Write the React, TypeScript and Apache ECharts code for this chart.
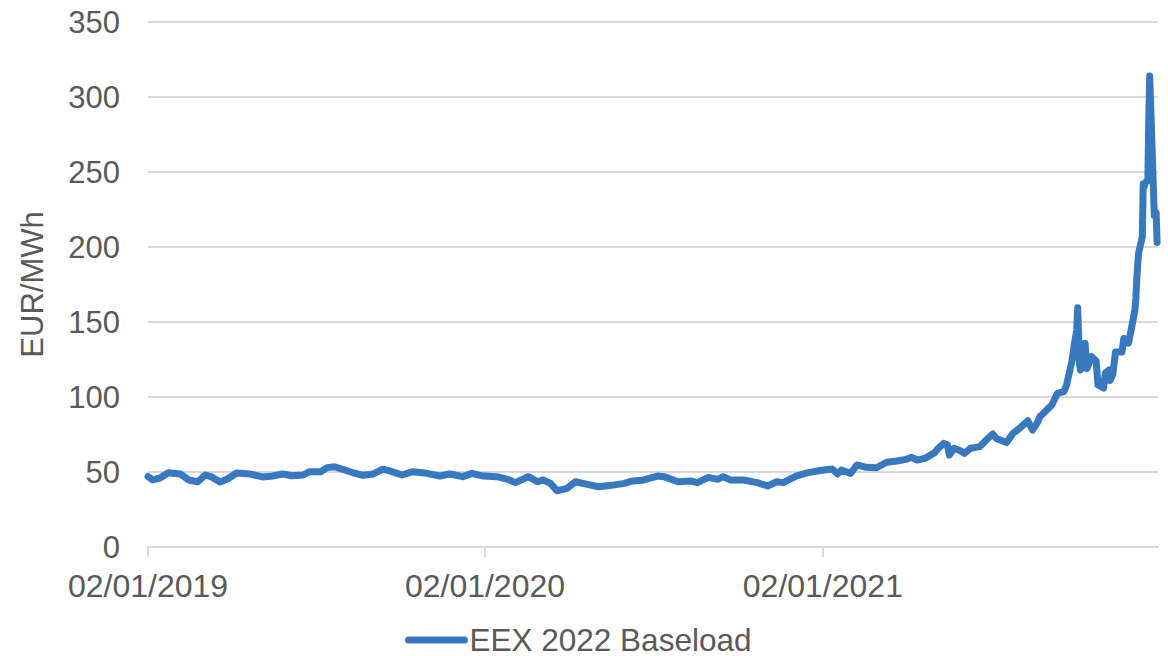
import React, { useEffect, useRef } from "react";
import * as echarts from "echarts";

// EEX Calendar 2022 baseload power futures, settlement prices (EUR/MWh)
const seriesName = "EEX 2022 Baseload";
const yAxisTitle = "EUR/MWh";

const axisStart = "2019-01-02";
const axisEnd = "2021-12-31";
const dateTicks = ["2019-01-02", "2020-01-02", "2021-01-02"];
const yMin = 0;
const yMax = 350;
const yStep = 50;

const dates = [
  "2019-01-02", "2019-01-07", "2019-01-15", "2019-01-24", "2019-02-06", "2019-02-15",
  "2019-02-25", "2019-03-05", "2019-03-12", "2019-03-21", "2019-03-29", "2019-04-08",
  "2019-04-22", "2019-05-06", "2019-05-17", "2019-05-28", "2019-06-07", "2019-06-19",
  "2019-06-26", "2019-07-08", "2019-07-15", "2019-07-23", "2019-08-01", "2019-08-12",
  "2019-08-23", "2019-09-03", "2019-09-13", "2019-09-20", "2019-10-04", "2019-10-16",
  "2019-10-31", "2019-11-14", "2019-11-25", "2019-12-09", "2019-12-19", "2019-12-31",
  "2020-01-15", "2020-01-27", "2020-02-04", "2020-02-18", "2020-02-28", "2020-03-05",
  "2020-03-13", "2020-03-20", "2020-03-31", "2020-04-09", "2020-04-17", "2020-05-04",
  "2020-05-18", "2020-06-01", "2020-06-08", "2020-06-22", "2020-07-07", "2020-07-14",
  "2020-07-29", "2020-08-12", "2020-08-19", "2020-08-31", "2020-09-10", "2020-09-16",
  "2020-09-24", "2020-10-08", "2020-10-23", "2020-11-03", "2020-11-13", "2020-11-20",
  "2020-12-04", "2020-12-16", "2020-12-30",
  "2021-01-12", "2021-01-18", "2021-01-22", "2021-02-01", "2021-02-08", "2021-02-18",
  "2021-03-01", "2021-03-12", "2021-03-23", "2021-04-02", "2021-04-08", "2021-04-14",
  "2021-04-23", "2021-05-03", "2021-05-07", "2021-05-13", "2021-05-17", "2021-05-19",
  "2021-05-24", "2021-05-31", "2021-06-04", "2021-06-11", "2021-06-21", "2021-06-28",
  "2021-07-05", "2021-07-09", "2021-07-20", "2021-07-27", "2021-08-03", "2021-08-12",
  "2021-08-17", "2021-08-23", "2021-08-25", "2021-08-27", "2021-09-07", "2021-09-13",
  "2021-09-20", "2021-09-23", "2021-09-29", "2021-10-01", "2021-10-04", "2021-10-05",
  "2021-10-07", "2021-10-08", "2021-10-13", "2021-10-15", "2021-10-20", "2021-10-25",
  "2021-10-27", "2021-11-02", "2021-11-04", "2021-11-08", "2021-11-09", "2021-11-12",
  "2021-11-15", "2021-11-22", "2021-11-24", "2021-11-29", "2021-12-02", "2021-12-06",
  "2021-12-07", "2021-12-08", "2021-12-09", "2021-12-10", "2021-12-13", "2021-12-14",
  "2021-12-15", "2021-12-16", "2021-12-17", "2021-12-20", "2021-12-21", "2021-12-22",
  "2021-12-27", "2021-12-29", "2021-12-30",
];

const prices = [
  47, 44.7, 46, 49.5, 48.7, 44.7,
  43.5, 48, 46.7, 43.3, 45.3, 49.3,
  48.7, 46.7, 47.3, 48.7, 47.5, 48,
  50.2, 50.2, 52.9, 53.5, 51.8, 49.5,
  47.8, 48.7, 51.8, 50.9, 48, 50.2,
  49.1, 47.3, 48.7, 46.9, 49.1, 47.3,
  46.9, 45.1, 42.9, 46.9, 43.5, 44.7,
  42.4, 37.5, 39.1, 43.5, 42.4, 40.2,
  41.1, 42.4, 43.8, 44.7, 47.3, 46.9,
  43.5, 44, 42.9, 46.4, 45.1, 46.9,
  44.7, 44.7, 42.9, 40.7, 43.5, 42.9,
  47.3, 49.4, 51,
  52, 48.7, 51.3, 49.1, 54.7, 53.1,
  52.8, 56.5, 57.3, 58.4, 59.8, 58,
  59.1, 62.9, 65.8, 69.1, 68, 61.3,
  65.8, 64.2, 62.4, 65.8, 66.9, 71.3,
  75.3, 72.4, 69.6, 75.8, 79.1, 84.2,
  78, 83.6, 86.9, 88, 94.7, 102.4,
  103.6, 108, 124.7, 133.5, 144.7, 159.5,
  122.4, 118, 135.8, 119, 127, 124,
  108, 106, 116, 118, 111, 115,
  130, 130, 139, 136, 145, 158,
  166, 178, 188, 196, 204, 207,
  242, 240, 243, 244, 285, 314,
  221, 223, 203,
];

const toTime = (s: string) => {
  const [y, m, d] = s.split("-").map(Number);
  return new Date(y, m - 1, d).getTime();
};

const pad = (n: number) => (n < 10 ? "0" + n : "" + n);
const formatDate = (v: number) => {
  const d = new Date(v);
  return `${pad(d.getDate())}/${pad(d.getMonth() + 1)}/${d.getFullYear()}`;
};

const FONT = "'Liberation Sans', Arial, Helvetica, sans-serif";
const TEXT = "#595959";
const GRID = "#d9d9d9";
const BLUE = "#3878bf";

export default function App() {
  const ref = useRef<HTMLDivElement>(null);

  useEffect(() => {
    if (!ref.current) return;
    const chart = echarts.init(ref.current, undefined, { renderer: "svg" });
    const tickTimes = dateTicks.map(toTime);

    chart.setOption({
      animation: false,
      backgroundColor: "#ffffff",
      textStyle: { fontFamily: FONT },
      grid: {
        left: 148,
        right: 10,
        top: 22,
        bottom: 109,
        containLabel: false,
        outerBoundsMode: "none",
      },
      legend: {
        show: true,
        left: 405,
        top: 624,
        itemWidth: 56,
        itemHeight: 7,
        padding: 0,
        lineStyle: { width: 7, cap: "round" },
        textStyle: { fontFamily: FONT, fontSize: 31.5, color: TEXT, lineHeight: 28 },
        data: [seriesName],
      },
      xAxis: {
        // dates held as millisecond timestamps on a linear axis
        type: "value",
        min: toTime(axisStart),
        max: toTime(axisEnd),
        axisLine: { show: true, lineStyle: { color: GRID, width: 2 } },
        axisTick: {
          show: true,
          length: 10,
          customValues: tickTimes,
          lineStyle: { color: GRID, width: 2 },
        },
        axisLabel: {
          show: true,
          customValues: tickTimes,
          formatter: (v: number) => formatDate(v),
          fontFamily: FONT,
          fontSize: 32,
          lineHeight: 32,
          color: TEXT,
          margin: 23,
          hideOverlap: false,
        },
        splitLine: { show: false },
      },
      yAxis: {
        type: "value",
        min: yMin,
        max: yMax,
        interval: yStep,
        name: yAxisTitle,
        nameLocation: "middle",
        nameRotate: 90,
        nameGap: 100,
        nameTextStyle: { fontFamily: FONT, fontSize: 31, color: TEXT },
        axisLine: { show: false },
        axisTick: { show: false },
        axisLabel: {
          fontFamily: FONT,
          fontSize: 31,
          color: TEXT,
          margin: 28,
        },
        splitLine: { show: true, lineStyle: { color: GRID, width: 2 } },
      },
      series: [
        {
          name: seriesName,
          type: "line",
          data: dates.map((d, i) => [toTime(d), prices[i]]),
          symbol: "none",
          showSymbol: false,
          smooth: false,
          lineStyle: { color: BLUE, width: 7, cap: "round", join: "round" },
          itemStyle: { color: BLUE },
          clip: false,
        },
      ],
    });

    return () => chart.dispose();
  }, []);

  return (
    <div
      ref={ref}
      style={{ position: "fixed", left: 0, top: 0, width: 1168, height: 656, background: "#fff" }}
    />
  );
}
